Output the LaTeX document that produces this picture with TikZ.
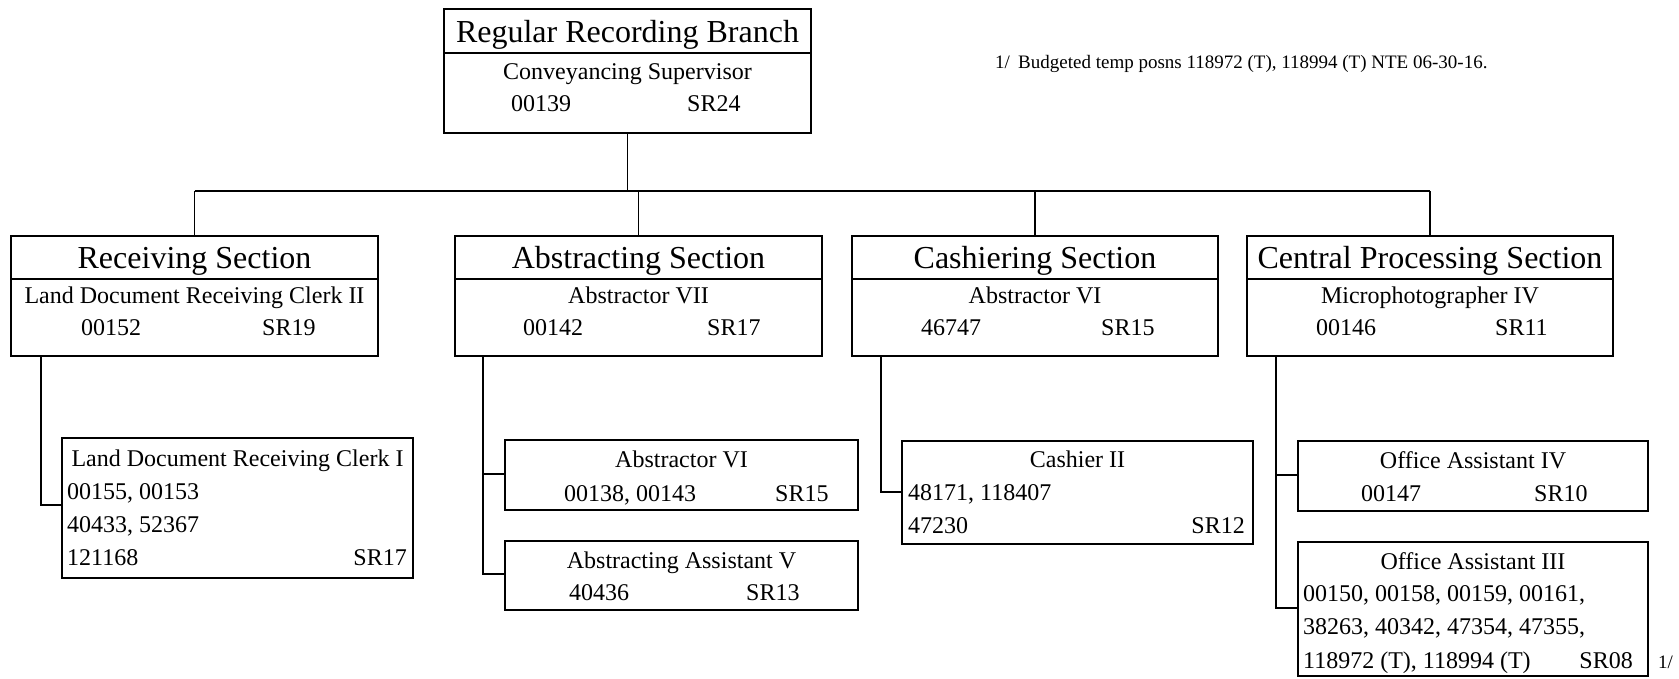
\documentclass[tikz,border=0pt]{standalone}
\usepackage{fontspec}
\setmainfont{Liberation Serif}
\begin{document}
\begin{tikzpicture}[x=1pt,y=-1pt,
  box/.style={draw,line width=1.8pt,inner sep=0pt,outer sep=0pt,anchor=north west},
  ttl/.style={font=\fontsize{32}{36}\selectfont,inner sep=0pt,anchor=base},
  txt/.style={font=\fontsize{24}{28}\selectfont,inner sep=0pt,anchor=base},
  txl/.style={txt,anchor=base west},
  txr/.style={txt,anchor=base east},
  note/.style={font=\fontsize{19}{21}\selectfont,inner sep=0pt,anchor=base west},
  ln/.style={line width=1.8pt}]
\useasboundingbox (0,0) rectangle (1679,678);
\fill[white] (0,0) rectangle (1679,678);

% ---- top box
\node[box,minimum width=367pt,minimum height=124pt] (top) at (444,9) {};
\draw[ln] (top.west |- 0,53) -- (top.east |- 0,53);
\node[ttl] (topT) at (627.5,42) {Regular Recording Branch};
\node[txt] (topA) at (627.5,79) {Conveyancing Supervisor};
\node[txl] (topB) at (511,111) {00139};
\node[txl] (topC) at (687,111) {SR24};

% ---- footnote
\node[note] (fn1) at (995,68) {1/};
\node[note] (fn2) at (1018,68) {Budgeted temp posns 118972 (T), 118994 (T) NTE 06-30-16.};

% ---- sections
\node[box,minimum width=367pt,minimum height=120pt] (rcv) at (11,236) {};
\node[box,minimum width=367pt,minimum height=120pt] (abs) at (455,236) {};
\node[box,minimum width=366pt,minimum height=120pt] (csh) at (852,236) {};
\node[box,minimum width=366pt,minimum height=120pt] (cen) at (1247,236) {};
\foreach \n in {rcv,abs,csh,cen}{\draw[ln] (\n.west |- 0,279) -- (\n.east |- 0,279);}

\node[ttl] (rcvT) at (rcv.center |- 0,268) {Receiving Section};
\node[txt] (rcvA) at (rcv.center |- 0,303) {Land Document Receiving Clerk II};
\node[txl] (rcvB) at (81,335) {00152};
\node[txl] (rcvC) at (262,335) {SR19};

\node[ttl] (absT) at (abs.center |- 0,268) {Abstracting Section};
\node[txt] (absA) at (abs.center |- 0,303) {Abstractor VII};
\node[txl] (absB) at (523,335) {00142};
\node[txl] (absC) at (707,335) {SR17};

\node[ttl] (cshT) at (csh.center |- 0,268) {Cashiering Section};
\node[txt] (cshA) at (csh.center |- 0,303) {Abstractor VI};
\node[txl] (cshB) at (921,335) {46747};
\node[txl] (cshC) at (1101,335) {SR15};

\node[ttl] (cenT) at (cen.center |- 0,268) {Central Processing Section};
\node[txt] (cenA) at (cen.center |- 0,303) {Microphotographer IV};
\node[txl] (cenB) at (1316,335) {00146};
\node[txl] (cenC) at (1495,335) {SR11};

% ---- top connectors
\coordinate (bar) at (0,191);
\draw[ln] (top.south) -- (top.south |- bar);
\draw[ln] (rcv.north |- bar) -- (cen.north |- bar);
\foreach \n in {rcv,abs,csh,cen}{\draw[ln] (\n.north |- bar) -- (\n.north);}

% ---- receiving child
\node[box,minimum width=351pt,minimum height=140pt] (rc1) at (62,438) {};
\node[txt] (rc1T) at (rc1.center |- 0,466) {Land Document Receiving Clerk I};
\node[txl] (rc1A) at (67,499) {00155, 00153};
\node[txl] (rc1B) at (67,532) {40433, 52367};
\node[txl] (rc1C) at (67,565) {121168};
\node[txr] (rc1D) at (407,565) {SR17};
\coordinate (rj) at (41,505);
\draw[ln] (rcv.south -| rj) |- (rc1.west |- rj);

% ---- abstracting children
\node[box,minimum width=353pt,minimum height=70pt] (ab1) at (505,440) {};
\node[txt] (ab1T) at (ab1.center |- 0,467) {Abstractor VI};
\node[txl] (ab1A) at (564,501) {00138, 00143};
\node[txl] (ab1B) at (775,501) {SR15};
\node[box,minimum width=353pt,minimum height=69pt] (ab2) at (505,541) {};
\node[txt] (ab2T) at (ab2.center |- 0,568) {Abstracting Assistant V};
\node[txl] (ab2A) at (569,600) {40436};
\node[txl] (ab2B) at (746,600) {SR13};
\coordinate (aj1) at (483,474);
\coordinate (aj2) at (483,574);
\draw[ln] (abs.south -| aj2) |- (ab2.west |- aj2);
\draw[ln] (aj1) -- (ab1.west |- aj1);

% ---- cashiering child
\node[box,minimum width=351pt,minimum height=103pt] (cs1) at (902,441) {};
\node[txt] (cs1T) at (cs1.center |- 0,467) {Cashier II};
\node[txl] (cs1A) at (908,500) {48171, 118407};
\node[txl] (cs1B) at (908,533) {47230};
\node[txr] (cs1C) at (1245,533) {SR12};
\coordinate (cj) at (881,492);
\draw[ln] (csh.south -| cj) |- (cs1.west |- cj);

% ---- central children
\node[box,minimum width=350pt,minimum height=70pt] (ce1) at (1298,441) {};
\node[txt] (ce1T) at (ce1.center |- 0,468) {Office Assistant IV};
\node[txl] (ce1A) at (1361,501) {00147};
\node[txl] (ce1B) at (1534,501) {SR10};
\node[box,minimum width=350pt,minimum height=134pt] (ce2) at (1298,542) {};
\node[txt] (ce2T) at (ce2.center |- 0,569) {Office Assistant III};
\node[txl] (ce2A) at (1303,601) {00150, 00158, 00159, 00161,};
\node[txl] (ce2B) at (1303,634) {38263, 40342, 47354, 47355,};
\node[txl] (ce2C) at (1303,668) {118972 (T), 118994 (T)};
\node[txr] (ce2D) at (1633,668) {SR08};
\node[note] (ce2N) at (1658,668) {1/};
\coordinate (ej1) at (1276,475);
\coordinate (ej2) at (1276,608);
\draw[ln] (cen.south -| ej2) |- (ce2.west |- ej2);
\draw[ln] (ej1) -- (ce1.west |- ej1);
\end{tikzpicture}
\end{document}
